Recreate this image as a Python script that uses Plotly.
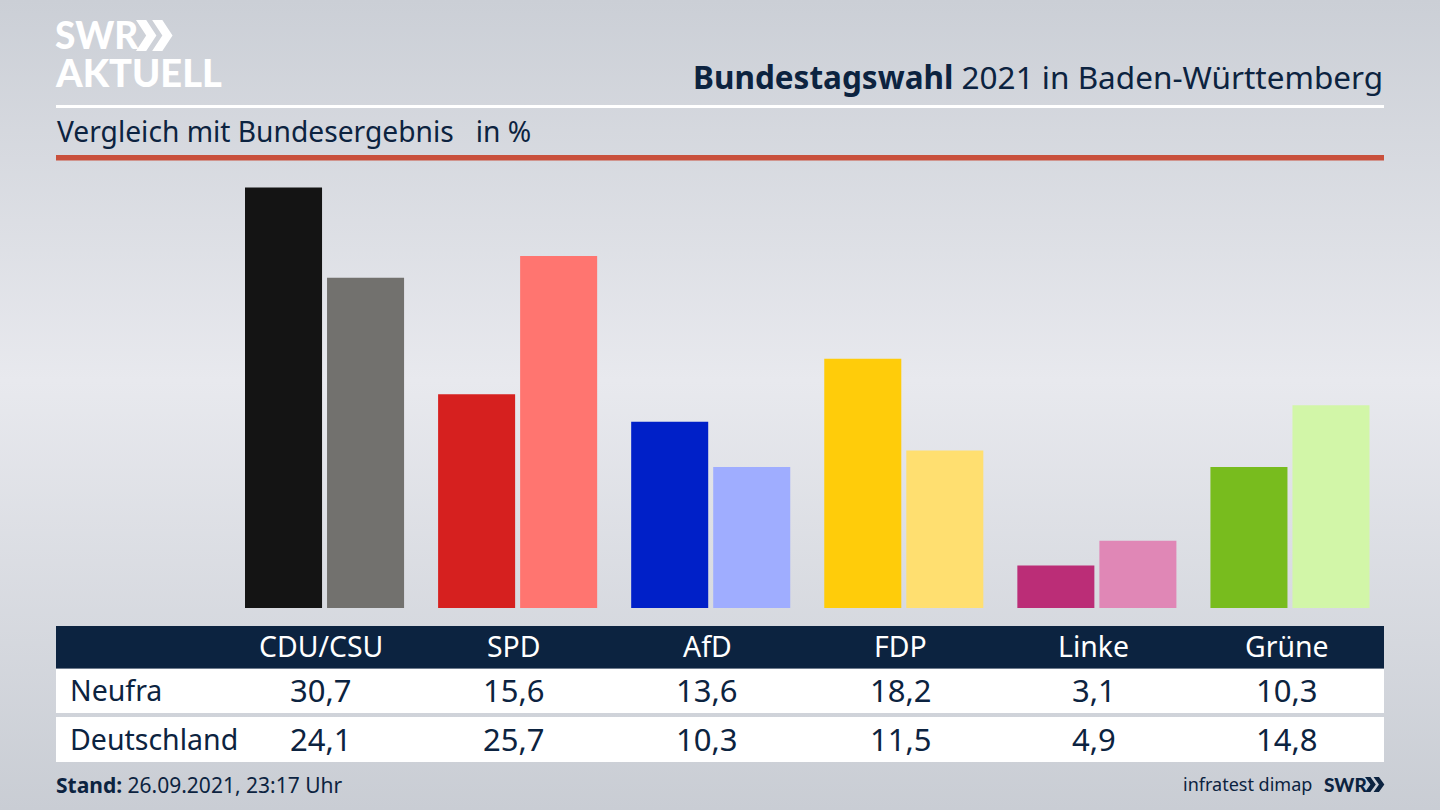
import base64
import plotly.graph_objects as go

parties = ["CDU/CSU", "SPD", "AfD", "FDP", "Linke", "Grüne"]
neufra = [30.7, 15.6, 13.6, 18.2, 3.1, 10.3]
deutschland = [24.1, 25.7, 10.3, 11.5, 4.9, 14.8]
neufra_labels = ["30,7", "15,6", "13,6", "18,2", "3,1", "10,3"]
deutschland_labels = ["24,1", "25,7", "10,3", "11,5", "4,9", "14,8"]
colors_neufra = ["#141414", "#d6201f", "#0020c8", "#ffcc0a", "#bb2d77", "#78bc1e"]
colors_deutschland = ["#72716e", "#ff7570", "#9fadff", "#ffdf70", "#e087b6", "#d2f6a8"]

W, H = 1440, 810
NAVY = "#0c2340"
FONT = "Noto Sans"

svg = (f'<svg xmlns="http://www.w3.org/2000/svg" width="{W}" height="{H}" preserveAspectRatio="none">'
       '<defs><linearGradient id="g" x1="0" y1="0" x2="0" y2="1">'
       '<stop offset="0" stop-color="#cbcfd6"/><stop offset="0.47" stop-color="#e8e9ee"/>'
       '<stop offset="1" stop-color="#c9cdd4"/></linearGradient></defs>'
       f'<rect width="{W}" height="{H}" fill="url(#g)"/></svg>')
bg = "data:image/svg+xml;base64," + base64.b64encode(svg.encode()).decode()


def px(x):
    return x / W


def py(y):
    return 1 - y / H


def rect(x0, y0, x1, y1, color):
    return dict(type="rect", xref="paper", yref="paper", x0=px(x0), x1=px(x1), y0=py(y0), y1=py(y1),
                fillcolor=color, line_width=0, layer="below")


def path(pts, color):
    d = "M" + " L".join(f"{px(x):.5f},{py(y):.5f}" for x, y in pts) + " Z"
    return dict(type="path", xref="paper", yref="paper", path=d, fillcolor=color, line_width=0)


def chevrons(x, y0, y1, w, color):
    mid = (y0 + y1) / 2
    out = []
    for dx in (0, w * 0.95):
        out.append(path([(x + dx, y0), (x + dx + w * 0.6, y0), (x + dx + w * 1.2, mid),
                         (x + dx + w * 0.6, y1), (x + dx, y1), (x + dx + w * 0.6, mid)], color))
    return out


def text(x, y, s, size, color=NAVY, anchor="center", family=FONT, weight=None):
    font = dict(family=family, size=size, color=color)
    if weight:
        font["weight"] = weight
    return dict(xref="paper", yref="paper", x=px(x), y=py(y), text=s, showarrow=False,
                xanchor=anchor, yanchor="middle", align=anchor, font=font)


fig = go.Figure()
fig.add_bar(x=parties, y=neufra, name="Neufra", marker=dict(color=colors_neufra, line_width=0))
fig.add_bar(x=parties, y=deutschland, name="Deutschland", marker=dict(color=colors_deutschland, line_width=0))

shapes = [
    rect(56, 105, 1384, 108, "#ffffff"),
    rect(56, 155, 1384, 160.5, "#c9503c"),
    rect(56, 626, 1384, 668.5, NAVY),
    rect(56, 669, 1384, 713, "#ffffff"),
    rect(56, 717, 1384, 762, "#ffffff"),
]
shapes += chevrons(136, 20, 51, 17, "#ffffff")
shapes += chevrons(1365, 777, 792, 9, NAVY)

annotations = [
    text(53, 35, "SWR", 37, "#ffffff", "left", "Lato", 900),
    text(53, 72, "AKTUELL", 38, "#ffffff", "left", "Lato", 900),
    text(1385, 76.5, "<b>Bundestagswahl</b> 2021 in Baden-Württemberg", 31.5, anchor="right"),
    text(55, 131, "Vergleich mit Bundesergebnis &nbsp; in %", 28.2, anchor="left"),
    text(67.5, 690, "Neufra", 28.5, anchor="left"),
    text(67.5, 739, "Deutschland", 28.5, anchor="left"),
    text(53.5, 784.5, "<b>Stand:</b> 26.09.2021, 23:17 Uhr", 21, anchor="left"),
    text(1314, 784, "infratest dimap", 18, anchor="right"),
    text(1322, 784.5, "SWR", 19, anchor="left", family="Lato", weight=900),
]
for i, p in enumerate(parties):
    cx = 321 + 193.2 * i
    annotations.append(text(cx, 646, p, 28.4, "#ffffff"))
    annotations.append(text(cx, 690, neufra_labels[i], 31))
    annotations.append(text(cx, 739, deutschland_labels[i], 31))

base_y, top_y = 608, 170
fig.update_layout(
    width=W, height=H, margin=dict(l=0, r=0, t=0, b=0), showlegend=False,
    barmode="group", bargap=0.1503, bargroupgap=0.061,
    paper_bgcolor="#dfe1e6", plot_bgcolor="rgba(0,0,0,0)",
    xaxis=dict(domain=[px(228), px(1386.5)], visible=False, categoryorder="array", categoryarray=parties),
    yaxis=dict(domain=[py(base_y), py(top_y)], visible=False, range=[0, (base_y - top_y) / 13.7]),
    shapes=shapes, annotations=annotations,
    images=[dict(source=bg, xref="paper", yref="paper", x=0, y=1, sizex=1, sizey=1,
                 sizing="stretch", xanchor="left", yanchor="top", layer="below")],
)
fig.write_html("out.html", config={"displayModeBar": False},
               post_script="document.body.style.margin='0';document.documentElement.style.overflow='hidden';")
